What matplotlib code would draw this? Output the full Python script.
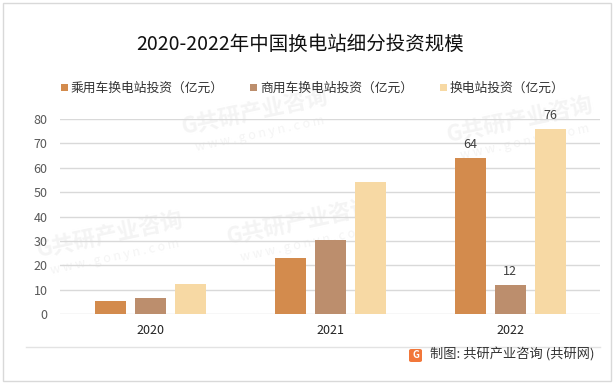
import matplotlib
matplotlib.use("Agg")
import matplotlib.pyplot as plt
from matplotlib.patches import Rectangle, FancyBboxPatch
from matplotlib.lines import Line2D
import numpy as np

plt.rcParams['font.family'] = ['Noto Sans CJK SC', 'DejaVu Sans']

years = ["2020", "2021", "2022"]
series_names = ["乘用车换电站投资（亿元）", "商用车换电站投资（亿元）", "换电站投资（亿元）"]
passenger = [5.3, 23, 64]
commercial = [6.6, 30.3, 12]
total = [12.4, 54, 76]
labels_2022 = [64, 12, 76]
yticks = [0, 10, 20, 30, 40, 50, 60, 70, 80]
title = "2020-2022年中国换电站细分投资规模"
source = "制图: 共研产业咨询 (共研网)"

colors = ["#D38B4D", "#BC8E6D", "#F7D9A4"]

W, H = 615, 384
fig = plt.figure(figsize=(W / 100, H / 100), dpi=100)

def px(x, y):
    return x / W, 1 - y / H

# figure border
fig.patches.append(Rectangle(px(3, 381), 608 / W, 378 / H, transform=fig.transFigure,
                             fill=False, edgecolor="#D9D9D9", lw=1.0, zorder=0))

# faint watermarks
wm_pos = [(255, 112), (300, 222), (110, 235), (520, 120)]
for (wx, wy) in wm_pos:
    fx, fy = px(wx, wy)
    fig.text(fx, fy, "G共研产业咨询", fontsize=16, fontweight="bold", color="#F4F4F4",
             rotation=12, ha="center", va="center", zorder=-5)
    fx2, fy2 = px(wx + 5, wy + 22)
    fig.text(fx2, fy2, "w w w . g o n y n . c o m", fontsize=9, color="#F4F4F4",
             rotation=12, ha="center", va="center", zorder=-5)

ax = fig.add_axes([60 / W, 70 / H, 540 / W, 195 / H])
ax.patch.set_alpha(0)
ax.set_zorder(3)

x = np.arange(len(years))
off = 40 / 180
bw = 31 / 180
for i, (vals, c, name) in enumerate(zip([passenger, commercial, total], colors, series_names)):
    ax.bar(x + (i - 1) * off, vals, width=bw, color=c, zorder=3, label=name)

for i, v in enumerate(labels_2022):
    ax.annotate(str(v), (x[2] + (i - 1) * off, v), xytext=(0, 5), textcoords="offset points",
                ha="center", va="bottom", fontsize=9, color="#404040")

ax.set_xlim(-0.5, 2.5)
ax.set_ylim(0, 80)
ax.set_yticks(yticks)
ax.set_xticks(x)
ax.set_xticklabels(years)
ax.tick_params(axis="y", length=0, pad=9, labelsize=9, labelcolor="#595959")
ax.tick_params(axis="x", length=0, pad=7, labelsize=9, labelcolor="#222222")
ax.grid(axis="y", color="#D9D9D9", lw=1.0, zorder=0)
for s in ax.spines.values():
    s.set_visible(False)

# title
tx, ty = px(300, 44)
fig.text(tx, ty, title, fontsize=14, ha="center", va="center", color="#111111", zorder=4)

# legend (manual)
leg_items = [(61, 71), (250, 260), (440, 450)]
for (sx, tx_), c, name in zip(leg_items, colors, series_names):
    fx, fy = px(sx, 91)
    fig.patches.append(Rectangle((fx, fy), 7 / W, 7 / H, transform=fig.transFigure,
                                 facecolor=c, edgecolor="none", zorder=4))
    lx, ly = px(tx_, 88)
    fig.text(lx, ly, name, fontsize=9.2, ha="left", va="center", color="#333333", zorder=4)

# footer line
x0, y0 = px(26, 347)
x1, _ = px(600, 347)
fig.add_artist(Line2D([x0, x1], [y0, y0], transform=fig.transFigure, color="#E3E3E3", lw=1))

# logo
lx, ly = px(409, 362)
fig.patches.append(FancyBboxPatch((lx, ly), 13 / W, 13 / H, boxstyle="round,pad=0,rounding_size=0.004",
                                  transform=fig.transFigure, facecolor="#F2773A", edgecolor="none", zorder=4))
gx, gy = px(415.5, 355.5)
fig.text(gx, gy, "G", fontsize=7, fontweight="bold", color="white", ha="center", va="center", zorder=5)

sx, sy = px(430, 355)
fig.text(sx, sy, source, fontsize=9.5, ha="left", va="center", color="#333333", zorder=4)

fig.savefig("out.png", dpi=100)
